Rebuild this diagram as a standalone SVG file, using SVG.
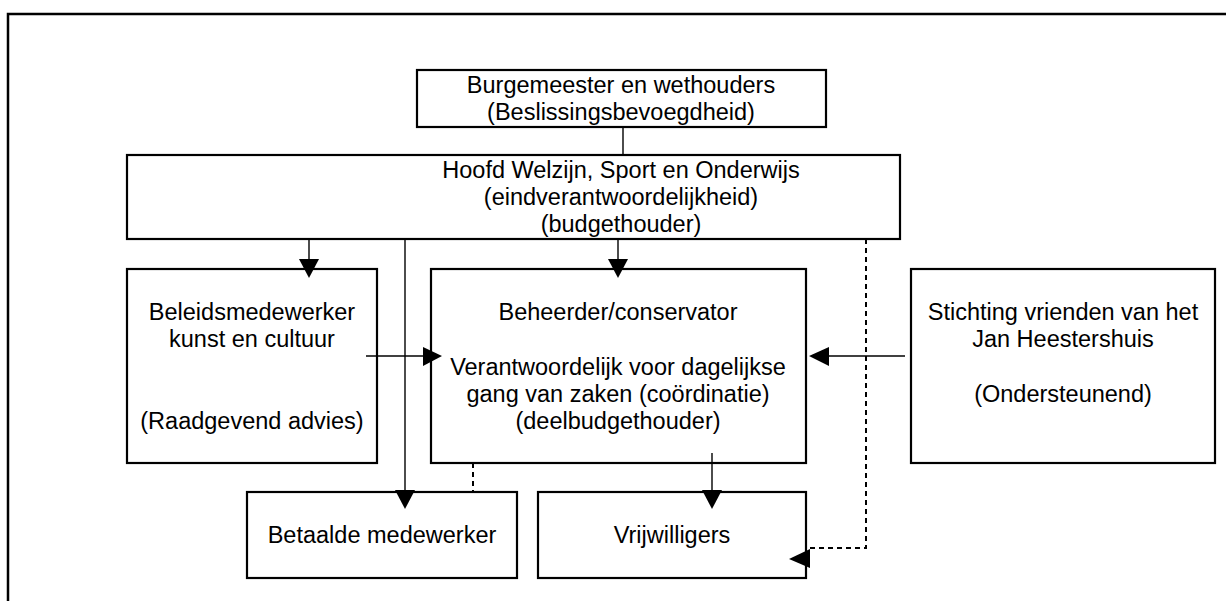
<svg xmlns="http://www.w3.org/2000/svg" width="1226" height="601" viewBox="0 0 1226 601">
<style>
.box{fill:#fff;stroke:#000;stroke-width:2.2}
.t{font-family:"Liberation Sans",Arial,sans-serif;font-size:23.5px;fill:#000;text-anchor:middle}
.c{fill:none;stroke:#000;stroke-width:1.4}
.d{fill:none;stroke:#000;stroke-width:2;stroke-dasharray:5,4}
.ah{fill:#000;stroke:none}
</style>
<rect width="1226" height="601" fill="#fff"/>
<g id="frame"><path d="M8,601 V14 H1226" fill="none" stroke="#000" stroke-width="2.5"/></g>
<g id="n-burgemeester"><rect class="box" x="417" y="70" width="409" height="57"/>
<text class="t" x="621" y="93">Burgemeester en wethouders</text>
<text class="t" x="621" y="120">(Beslissingsbevoegdheid)</text></g>
<g id="n-hoofd"><rect class="box" x="127" y="155" width="773" height="84"/>
<text class="t" x="621" y="178">Hoofd Welzijn, Sport en Onderwijs</text>
<text class="t" x="621" y="205">(eindverantwoordelijkheid)</text>
<text class="t" x="621" y="232">(budgethouder)</text></g>
<g id="n-beleids"><rect class="box" x="127" y="269" width="250" height="194"/>
<text class="t" x="252" y="320">Beleidsmedewerker</text>
<text class="t" x="252" y="347">kunst en cultuur</text>
<text class="t" x="252" y="429">(Raadgevend advies)</text></g>
<g id="n-beheerder"><rect class="box" x="431" y="269" width="375" height="194"/>
<text class="t" x="618" y="320">Beheerder/conservator</text>
<text class="t" x="618" y="375">Verantwoordelijk voor dagelijkse</text>
<text class="t" x="618" y="402">gang van zaken (coördinatie)</text>
<text class="t" x="618" y="429">(deelbudgethouder)</text></g>
<g id="n-stichting"><rect class="box" x="911" y="269" width="304" height="194"/>
<text class="t" x="1063" y="320">Stichting vrienden van het</text>
<text class="t" x="1063" y="347">Jan Heestershuis</text>
<text class="t" x="1063" y="402">(Ondersteunend)</text></g>
<g id="n-betaalde"><rect class="box" x="247" y="492" width="270" height="86"/>
<text class="t" x="382" y="543">Betaalde medewerker</text></g>
<g id="n-vrijwilligers"><rect class="box" x="538" y="492" width="268" height="86"/>
<text class="t" x="672" y="543">Vrijwilligers</text></g>
<g id="connectors">
<path class="c" d="M623,127 V155"/>
<path class="c" d="M309,239 V262"/><polygon class="ah" points="299,259 319,259 309,278"/>
<path class="c" d="M618,239 V262"/><polygon class="ah" points="608,259 628,259 618,278"/>
<path class="c" d="M405,239 V492"/><polygon class="ah" points="395,490 415,490 405,509"/>
<path class="c" d="M712,453 V492"/><polygon class="ah" points="702,490 722,490 712,509"/>
<path class="c" d="M366,356 H426"/><polygon class="ah" points="423,347 423,366 442,356"/>
<path class="c" d="M905,356 H826"/><polygon class="ah" points="829,347 829,366 809,356"/>
<path class="d" d="M473,463 V492"/>
<path class="d" d="M866,239 V548 H810"/><polygon class="ah" points="810,549 810,568 789,559"/>
</g>
</svg>
